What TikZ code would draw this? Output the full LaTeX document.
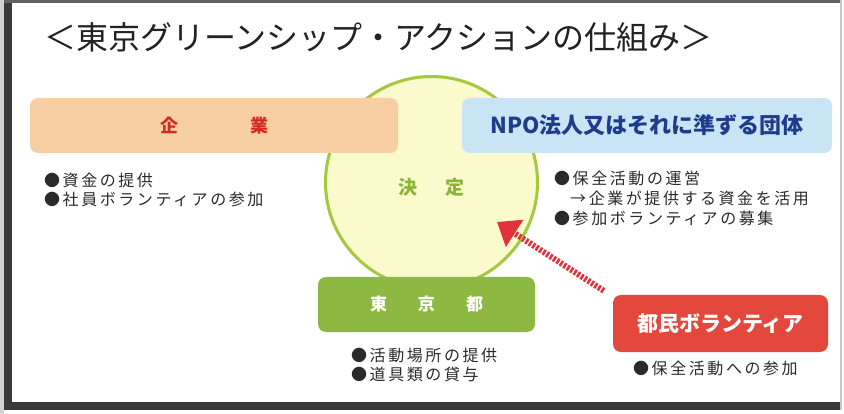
\documentclass[tikz,border=0pt]{standalone}
\usepackage{fontspec}
\usetikzlibrary{arrows.meta}
\newfontfamily\jp{Noto Sans CJK JP}
\newfontfamily\jpsp[LetterSpace=16]{Noto Sans CJK JP}
\definecolor{framegray}{HTML}{3A3A3A}
\definecolor{titlecol}{HTML}{222222}
\definecolor{textcol}{HTML}{2A2A2A}
\definecolor{orangefill}{HTML}{F8CFA2}
\definecolor{kigyored}{HTML}{D42A20}
\definecolor{bluefill}{HTML}{C9E4F5}
\definecolor{npoblue}{HTML}{1F3C8A}
\definecolor{circfill}{HTML}{FAFACD}
\definecolor{circline}{HTML}{A4C83E}
\definecolor{decidegreen}{HTML}{8CB43A}
\definecolor{tokyogreen}{HTML}{8DB943}
\definecolor{volred}{HTML}{E4483C}
\definecolor{arrowred}{HTML}{E2323C}
\tikzset{
  box/.style={rectangle, rounded corners=8pt, inner sep=0pt},
  boxtext/.style={font=\jp\bfseries\fontsize{#1}{#1}\selectfont},
  bullets/.style={anchor=north west, inner sep=0pt, align=left, text=textcol,
    font=\jpsp\fontsize{16}{19}\selectfont},
  dotarrow/.style={draw=arrowred, line width=6pt, dash pattern=on 2.5pt off 1.6pt,
    -{Triangle[length=21pt,width=31pt]}, shorten >=0pt}
}
\begin{document}
\begin{tikzpicture}[x=1pt,y=-1pt]
\useasboundingbox (0,0) rectangle (844,414);
\fill[white] (0,0) rectangle (844,414);
% frame
\fill[gray!35] (0,0) rectangle (4,414);
\fill[framegray] (4,0) rectangle (12,410);
\fill[framegray] (4,402) rectangle (842,410);
\fill[framegray!80] (4,0) rectangle (842,3);
\fill[gray!45] (840,0) rectangle (842,410);
% title
\node[anchor=west, inner sep=0pt, text=titlecol, font=\jp\fontsize{32}{36}\selectfont]
  (title) at (44,37) {＜東京グリーンシップ・アクションの仕組み＞};
% circle
\node[circle, draw=circline, line width=3pt, fill=circfill, minimum size=212pt, inner sep=0pt]
  (decide) at (431.5,182.5) {};
\node[inner sep=0pt, text=decidegreen, font=\jp\bfseries\fontsize{19}{19}\selectfont]
  (decidetext) at (431.5,187) {決\hspace{28pt}定};
% arrow
\coordinate (arrowtip) at (497,222);
% boxes
\node[box, fill=orangefill, minimum width=368pt, minimum height=55pt, text=kigyored, boxtext=18]
  (kigyo) at (214,125.5) {企\hspace{72pt}業};
\node[box, fill=bluefill, minimum width=370pt, minimum height=55pt, text=npoblue, boxtext=22]
  (npo) at (647,125.5) {NPO法人又はそれに準ずる団体};
\node[box, fill=tokyogreen, minimum width=217pt, minimum height=55pt, text=white, boxtext=17]
  (tokyo) at (426.5,304.5) {東\hspace{31pt}京\hspace{31pt}都};
\node[box, fill=volred, minimum width=215pt, minimum height=57pt, text=white, boxtext=21]
  (vol) at (720.5,323.5) {都民ボランティア};
\draw[dotarrow] ([xshift=-9pt,yshift=4pt]vol.north west) -- (arrowtip);
% bullet texts
\node[bullets] (kigyolist) at (44,173) {●資金の提供\\●社員ボランティアの参加};
\node[bullets, font=\jpsp\fontsize{16}{20}\selectfont] (npolist) at (554,171)
  {●保全活動の運営\\\hspace*{16pt}→企業が提供する資金を活用\\●参加ボランティアの募集};
\node[bullets] (tokyolist) at (351,348) {●活動場所の提供\\●道具類の貸与};
\node[bullets] (vollist) at (633,361) {●保全活動への参加};
\end{tikzpicture}
\end{document}
